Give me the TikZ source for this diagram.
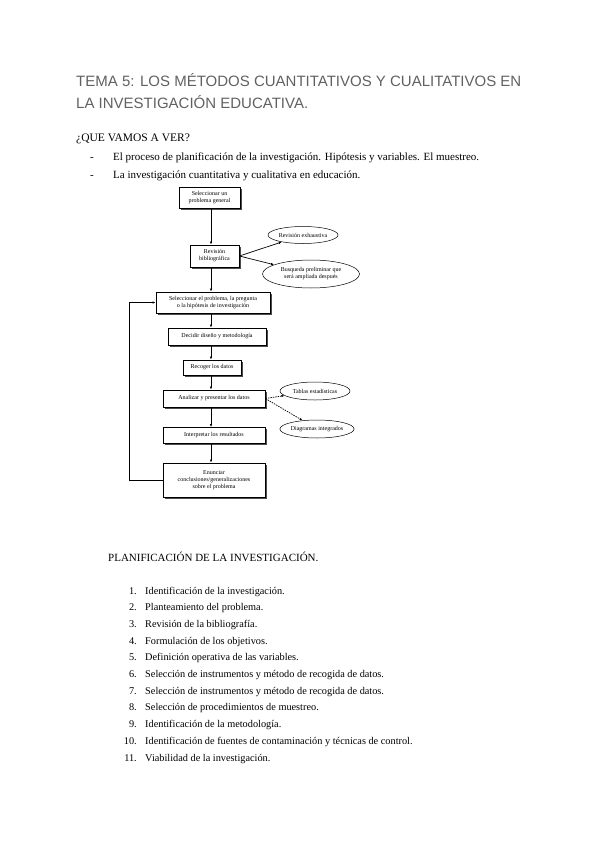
\documentclass[tikz,border=0pt]{standalone}
\usepackage{fontspec}
\setmainfont{Liberation Serif}
\newfontfamily\titlefont{Liberation Sans}
\usetikzlibrary{arrows.meta,positioning,shapes.geometric,shadows}

\begin{document}
\begin{tikzpicture}[x=1pt,y=-1pt,
	caja/.style={draw,line width=0.7pt,fill=white,align=center,inner sep=0pt,
		font=\fontsize{6}{7}\selectfont,
		drop shadow={shadow xshift=1.5pt,shadow yshift=-1.5pt,fill=black!70,opacity=1}},
	nube/.style={draw,ellipse,line width=0.5pt,align=center,inner sep=0pt,
		font=\fontsize{6}{7}\selectfont},
	flecha/.style={-{Latex[length=3pt,width=2.4pt]},line width=0.7pt},
	texto/.style={anchor=base west,inner sep=0pt,font=\fontsize{11}{12}\selectfont}]
		\useasboundingbox (0,0) rectangle (600,848);
		% cabecera
		\node[anchor=base west,inner sep=0pt,text=black!62,font=\titlefont\fontsize{15}{18}\selectfont] (tit1) at (76,87) {TEMA 5: LOS MÉTODOS CUANTITATIVOS Y CUALITATIVOS EN};
		\node[anchor=base west,inner sep=0pt,text=black!62,font=\titlefont\fontsize{15}{18}\selectfont] (tit2) at (76,109) {LA INVESTIGACIÓN EDUCATIVA.};
		\node[texto,font=\fontsize{11.5}{12}\selectfont] (ver) at (76,141) {¿QUE VAMOS A VER?};
		\node[texto] (g1) at (90,160) {-};
		\node[texto] (i1) at (113,160) {El proceso de planificación de la investigación. Hipótesis y variables. El muestreo.};
		\node[texto] (g2) at (90,178) {-};
		\node[texto] (i2) at (113,178) {La investigación cuantitativa y cualitativa en educación.};
		% diagrama
		\node[caja,minimum width=61,minimum height=21] (sel) at (209.5,197.5) {Seleccionar un\\problema general};
		\node[caja,minimum width=49,minimum height=22] (rev) at (214.5,256) {Revisión\\bibliográfica};
		\node[nube,minimum width=70,minimum height=17] (exh) at (303,235) {Revisión exhaustiva};
		\node[nube,minimum width=97,minimum height=28] (busq) at (311,274) {Busqueda preliminar que\\será ampliada después};
		\node[caja,minimum width=114,minimum height=21] (prob) at (213,302.5) {Seleccionar el problema, la pregunta\\o la hipótesis de investigación};
		\node[caja,minimum width=98,minimum height=17] (dis) at (217,336.5) {Decidir diseño y metodología};
		\node[caja,minimum width=58,minimum height=15] (rec) at (212,367.5) {Recoger los datos};
		\node[caja,minimum width=102,minimum height=17] (anal) at (214,398.5) {Analizar y presentar los datos};
		\node[nube,minimum width=70,minimum height=18] (tab) at (315,391) {Tablas estadísticas};
		\node[nube,minimum width=73,minimum height=18] (diag) at (317,429) {Diagramas integrados};
		\node[caja,minimum width=102,minimum height=16] (interp) at (214,435.5) {Interpretar los resultados};
		\node[caja,minimum width=102,minimum height=34] (enun) at (214,480) {Enunciar\\conclusiones/generalizaciones\\sobre el problema};
		\coordinate (eje) at (211,0);
		\draw[flecha] (eje |- sel.south) -- (eje |- rev.north);
		\draw[flecha] (eje |- rev.south) -- (eje |- prob.north);
		\draw[flecha] (eje |- prob.south) -- (eje |- dis.north);
		\draw[flecha] (eje |- dis.south) -- (eje |- rec.north);
		\draw[flecha] (eje |- rec.south) -- (eje |- anal.north);
		\draw[flecha] (eje |- anal.south) -- (eje |- interp.north);
		\draw[flecha] (eje |- interp.south) -- (eje |- enun.north);
		\draw[flecha] (rev.east) -- (exh);
		\draw[flecha] (rev.east) -- (busq);
		\draw[flecha,dashed,dash pattern=on 1.5pt off 1pt] (anal.east) -- (tab);
		\draw[flecha,dashed,dash pattern=on 1.5pt off 1pt] (anal.east) -- (diag);
		\draw[flecha] (enun.west) -- ++(-33,0) |- (prob.west);
		% planificacion
		\node[texto] (plan) at (108,561) {PLANIFICACIÓN DE LA INVESTIGACIÓN.};
		\foreach \n/\t [count=\k from 0] in {1/Identificación de la investigación.,
			2/Planteamiento del problema.,
			3/Revisión de la bibliografía.,
			4/Formulación de los objetivos.,
			5/Definición operativa de las variables.,
			6/Selección de instrumentos y método de recogida de datos.,
			7/Selección de instrumentos y método de recogida de datos.,
			8/Selección de procedimientos de muestreo.,
			9/Identificación de la metodología.,
			10/Identificación de fuentes de contaminación y técnicas de control.,
			11/Viabilidad de la investigación.}
		{
			\node[texto,anchor=base east,font=\fontsize{10.3}{12}\selectfont] (num\n) at (137,594+16.7*\k) {\n.};
			\node[texto,font=\fontsize{10.3}{12}\selectfont] (paso\n) at (145,594+16.7*\k) {\t};
		}
\end{tikzpicture}
\end{document}
